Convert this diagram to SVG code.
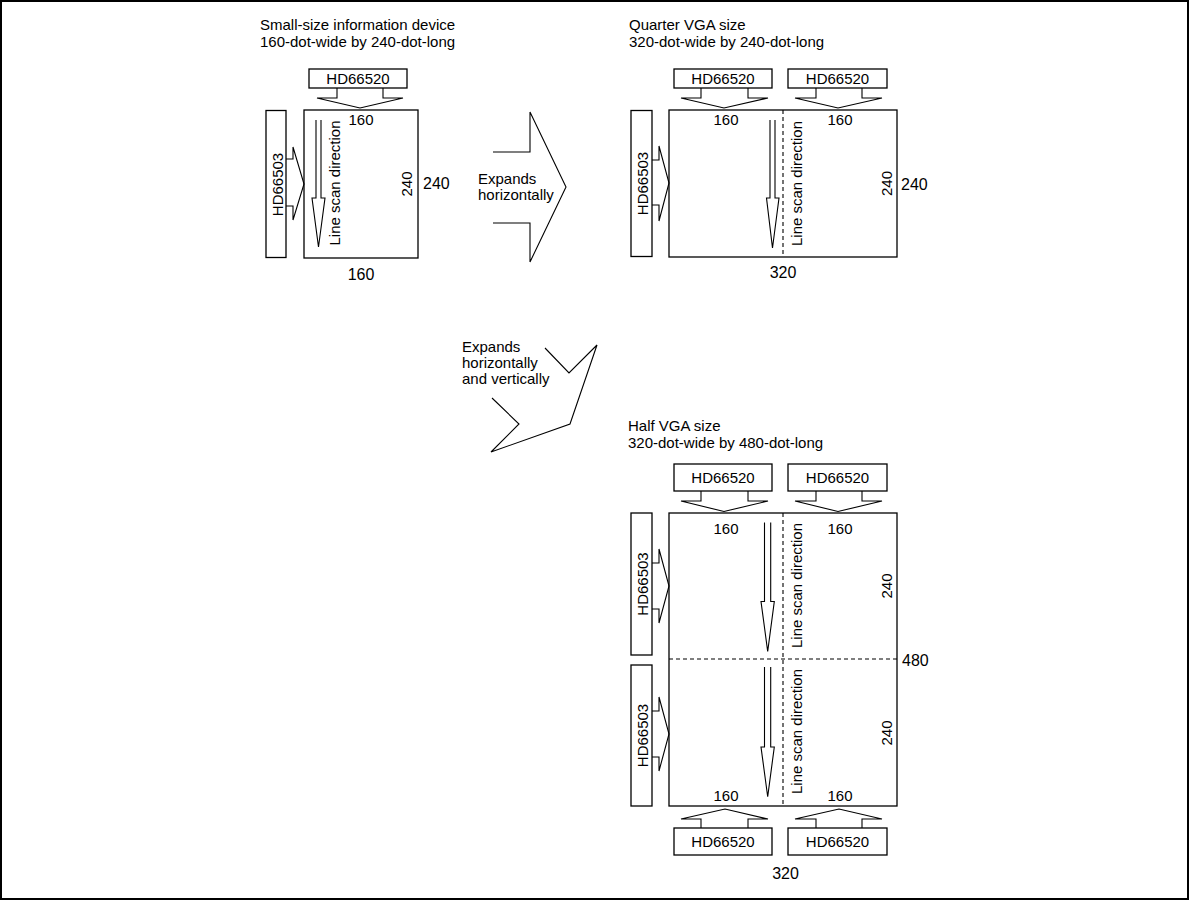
<svg xmlns="http://www.w3.org/2000/svg" width="1189" height="901" viewBox="0 0 1189 901">
<style>
text{font-family:"Liberation Sans",Arial,sans-serif;font-size:15px;fill:#000}
.dim{font-size:16px}
.m{text-anchor:middle}
.box{fill:#fff;stroke:#000;stroke-width:1.3}
.ar{fill:none;stroke:#000;stroke-width:1.1;stroke-linejoin:miter}
.dash{fill:none;stroke:#000;stroke-width:1.1;stroke-dasharray:4,3}
</style>
<rect x="1" y="1" width="1187" height="898" fill="#fff" stroke="#000" stroke-width="2"/>

<!-- Panel 1: small-size -->
<g id="panel1">
  <text x="260" y="30">Small-size information device</text>
  <text x="260" y="47">160-dot-wide by 240-dot-long</text>
  <rect class="box" x="304" y="110" width="114" height="148"/>
  <text class="m" x="361" y="124.5">160</text>
  <text class="m dim" x="361" y="280">160</text>
  <text class="m" transform="translate(412,184) rotate(-90)">240</text>
  <text class="dim" x="423" y="189">240</text>
  <text class="m" transform="translate(340,183) rotate(-90)">Line scan direction</text>
</g>
<g id="p1-hd66520">
  <rect class="box" x="309" y="69" width="98" height="19"/>
  <text class="m" x="358" y="84">HD66520</text>
</g>
<g id="p1-hd66503">
  <rect class="box" x="266" y="110.5" width="20" height="147"/>
  <text class="m" transform="translate(282.5,184.5) rotate(-90)">HD66503</text>
</g>

<!-- Panel 2: quarter VGA -->
<g id="panel2">
  <text x="629" y="30">Quarter VGA size</text>
  <text x="629" y="47">320-dot-wide by 240-dot-long</text>
  <rect class="box" x="669" y="110" width="228" height="147"/>
  <line class="dash" x1="783" y1="110" x2="783" y2="257"/>
  <text class="m" x="726" y="125">160</text>
  <text class="m" x="840" y="125">160</text>
  <text class="m" transform="translate(891.5,183.5) rotate(-90)">240</text>
  <text class="dim" x="901" y="190">240</text>
  <text class="m dim" x="783" y="278">320</text>
  <text class="m" transform="translate(801.5,183.5) rotate(-90)">Line scan direction</text>
</g>
<g id="p2-hd66520a">
  <rect class="box" x="674" y="69" width="98" height="19"/>
  <text class="m" x="723" y="84">HD66520</text>
</g>
<g id="p2-hd66520b">
  <rect class="box" x="788" y="69" width="99" height="19"/>
  <text class="m" x="837.5" y="84">HD66520</text>
</g>
<g id="p2-hd66503">
  <rect class="box" x="631" y="110.5" width="21" height="146"/>
  <text class="m" transform="translate(647.5,183.5) rotate(-90)">HD66503</text>
</g>

<!-- Expansion labels -->
<g id="expand-h">
  <text x="478" y="184">Expands</text>
  <text x="478" y="200">horizontally</text>
</g>
<g id="expand-hv">
  <text x="462" y="351.5">Expands</text>
  <text x="462" y="367.5">horizontally</text>
  <text x="462" y="384">and vertically</text>
</g>

<!-- Panel 3: half VGA -->
<g id="panel3">
  <text x="628" y="431">Half VGA size</text>
  <text x="628" y="448">320-dot-wide by 480-dot-long</text>
  <rect class="box" x="669" y="513" width="228" height="293"/>
  <line class="dash" x1="783" y1="513" x2="783" y2="806"/>
  <line class="dash" x1="669" y1="659" x2="897" y2="659"/>
  <text class="m" x="726" y="533.5">160</text>
  <text class="m" x="840" y="533.5">160</text>
  <text class="m" x="726" y="800.5">160</text>
  <text class="m" x="840" y="800.5">160</text>
  <text class="m" transform="translate(891.5,586) rotate(-90)">240</text>
  <text class="m" transform="translate(891.5,733) rotate(-90)">240</text>
  <text class="dim" x="902" y="666">480</text>
  <text class="m dim" x="785.5" y="879">320</text>
  <text class="m" transform="translate(801.5,585.5) rotate(-90)">Line scan direction</text>
  <text class="m" transform="translate(801.5,731.5) rotate(-90)">Line scan direction</text>
</g>
<g id="p3-hd66520a">
  <rect class="box" x="674" y="464" width="98" height="27"/>
  <text class="m" x="723" y="483">HD66520</text>
</g>
<g id="p3-hd66520b">
  <rect class="box" x="788" y="464" width="99" height="27"/>
  <text class="m" x="837.5" y="483">HD66520</text>
</g>
<g id="p3-hd66520c">
  <rect class="box" x="674" y="828" width="98" height="27"/>
  <text class="m" x="723" y="847">HD66520</text>
</g>
<g id="p3-hd66520d">
  <rect class="box" x="788" y="828" width="99" height="27"/>
  <text class="m" x="837.5" y="847">HD66520</text>
</g>
<g id="p3-hd66503a">
  <rect class="box" x="631" y="513" width="21" height="142"/>
  <text class="m" transform="translate(647.5,584) rotate(-90)">HD66503</text>
</g>
<g id="p3-hd66503b">
  <rect class="box" x="631" y="665" width="21" height="141"/>
  <text class="m" transform="translate(647.5,735.5) rotate(-90)">HD66503</text>
</g>

<!-- Connectors / arrows -->
<g id="connectors">
  <!-- panel 1 -->
  <polyline class="ar" points="337,88 337,98 317,98 360,108 403,98 383,98 383,88"/>
  <polyline class="ar" points="286,159 293,159 293,147 304,184 293,220 293,206 286,206"/>
  <polyline class="ar" points="316,120 316,198 312,198 318.5,247 325,198 321,198 321,120"/>
  <!-- expand horizontally -->
  <polyline class="ar" points="493,152 530,152 530,112 566,187 530,262 530,223 493,223"/>
  <!-- expand horizontally and vertically -->
  <polyline class="ar" points="545,348 569,373 597,345 570,424 491,452 519,424 492,398"/>
  <!-- panel 2 -->
  <polyline class="ar" points="701,88 701,98 681,98 724,108 768,98 748,98 748,88"/>
  <polyline class="ar" points="816,88 816,98 795,98 838,108 882,98 862,98 862,88"/>
  <polyline class="ar" points="652,160 659,160 659,146 669,183 659,221 659,205 652,205"/>
  <polyline class="ar" points="770,120 770,198 766.5,198 772.5,248 779,198 775,198 775,120"/>
  <!-- panel 3 -->
  <polyline class="ar" points="701,491 701,501 681,501 724,511.5 768,501 748,501 748,491"/>
  <polyline class="ar" points="816,491 816,501 795,501 838,511.5 882,501 862,501 862,491"/>
  <polyline class="ar" points="701,828 701,819 681,819 725,809 768,819 748,819 748,828"/>
  <polyline class="ar" points="816,828 816,819 795,819 839,809 882,819 862,819 862,828"/>
  <polyline class="ar" points="652,563 659,563 659,549 669,586 659,623 659,609 652,609"/>
  <polyline class="ar" points="652,711 659,711 659,697 669,734 659,771 659,757 652,757"/>
  <polyline class="ar" points="764.5,522.5 764.5,601.5 761,601.5 767.7,651.5 774.3,601.5 770.7,601.5 770.7,522.5"/>
  <polyline class="ar" points="764.5,667 764.5,747 761,747 767.7,796.7 774.3,747 770.7,747 770.7,667"/>
</g>
</svg>
